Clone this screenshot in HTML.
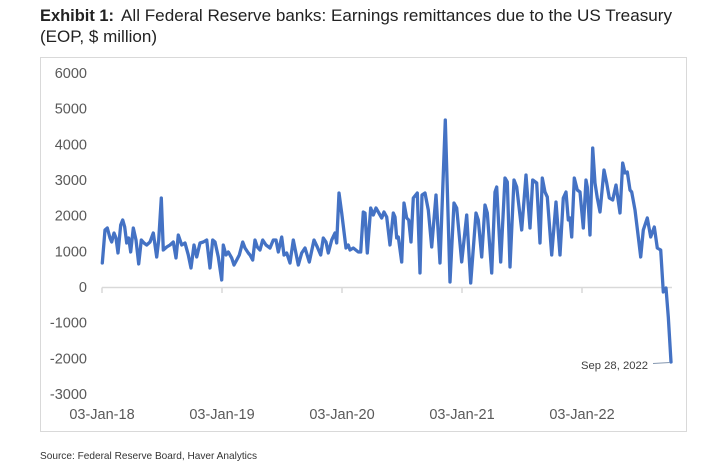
<!DOCTYPE html>
<html><head><meta charset="utf-8"><style>
html,body{margin:0;padding:0;background:#fff;}
svg{display:block;}
</style></head><body>
<svg width="722" height="465" viewBox="0 0 722 465" xmlns="http://www.w3.org/2000/svg">
<rect x="0" y="0" width="722" height="465" fill="#fff"/>
<text x="40" y="21" font-family="Liberation Sans, sans-serif" font-size="17" font-weight="bold" fill="#222" textLength="74" lengthAdjust="spacingAndGlyphs">Exhibit 1:</text>
<text x="121" y="21" font-family="Liberation Sans, sans-serif" font-size="17" fill="#222" textLength="551" lengthAdjust="spacingAndGlyphs">All Federal Reserve banks: Earnings remittances due to the US Treasury</text>
<text x="40" y="42" font-family="Liberation Sans, sans-serif" font-size="17" fill="#222" textLength="117" lengthAdjust="spacingAndGlyphs">(EOP, $ million)</text>
<rect x="40.5" y="57.5" width="646" height="374" fill="#fff" stroke="#d9d9d9" stroke-width="1"/>
<g font-family="Liberation Sans, sans-serif" font-size="14.5" fill="#595959" text-anchor="end">
<text x="87" y="78">6000</text>
<text x="87" y="113.7">5000</text>
<text x="87" y="149.3">4000</text>
<text x="87" y="185">3000</text>
<text x="87" y="220.7">2000</text>
<text x="87" y="256.3">1000</text>
<text x="87" y="292">0</text>
<text x="87" y="327.7">-1000</text>
<text x="87" y="363.3">-2000</text>
<text x="87" y="399">-3000</text>
</g>
<g font-family="Liberation Sans, sans-serif" font-size="14.5" fill="#595959" text-anchor="middle">
<text x="102" y="419">03-Jan-18</text>
<text x="222" y="419">03-Jan-19</text>
<text x="342" y="419">03-Jan-20</text>
<text x="462" y="419">03-Jan-21</text>
<text x="582" y="419">03-Jan-22</text>
</g>
<g stroke="#d9d9d9" stroke-width="1.5" fill="none">
<line x1="102" y1="287.5" x2="672" y2="287.5"/>
<line x1="102" y1="287.5" x2="102" y2="293"/>
<line x1="222" y1="287.5" x2="222" y2="293"/>
<line x1="342" y1="287.5" x2="342" y2="293"/>
<line x1="462" y1="287.5" x2="462" y2="293"/>
<line x1="582" y1="287.5" x2="582" y2="293"/>
</g>
<polyline fill="none" stroke="#4472C4" stroke-width="3.3" stroke-linejoin="round" stroke-linecap="round" points="
102.3,263 105,230 107.3,228 110,238 111.7,242 114,233 116,238 118,253 120.7,225 122.7,220 124.7,227 126.7,243 128.7,238 130.7,252 133.3,228 136,240 138.7,264 141.3,240 144,243 146.7,245 150,242 153.3,233 156.7,257 158.7,240 161.3,198 163.3,250 166.7,247 170,245 173.3,242 176,258 178.3,235 181.7,245 185,243 188.3,255 191,268 194,245 196.7,257 200,243 203.3,242 206.7,240 210,268 212.7,240 215,242 218.3,257 221.7,280 223.3,245 226,255 228.3,252 231.7,258 234,265 236.7,260 239.3,255 242.7,242 245,248 248.3,253
250,255 252.7,260 255,240 257.3,247 260,250 262.7,240 266,245 270,248 273.3,240 276,240 278.3,252 281.7,237 284,255 286.7,253 290,263 293.3,240 295.3,250 298.3,265 301.7,253 305,248 309.3,262 314,240 317.3,247 320.7,255 323.3,238 326,242 328.3,253 331.7,240 335,233 336.7,243 339,193 341.7,213 346,248 348.3,245 350,250 353.3,248 358.3,252 360.7,252 363.3,212 365,213 367.3,253 370.7,208 373.3,215 376,208 378.3,212 381.7,218 384,212 386.7,217 390,245
393.3,213 395,217 396.7,238 398.3,237 401.7,262 404,203 406.7,218 408.7,220 411,242 413.3,198 417.3,193 420,273 422,195 425,193 428.3,210 431.7,247 436,195 440,263 445.3,120 450,282 454,203 456.7,208 461.7,262 466.7,215 470.7,283 476,213 478.3,220 481.7,257 485,205 487.3,213 491.7,273 495,192 496.7,187 500.7,262 505,178 507.3,182 510,267 514,180 516.7,187 521.7,230 526,175 530,228 532.7,180 536.7,183 540,243 542.3,178 545,192 547.3,197
551.7,255 556,202 560,255 563.3,198 566,192 568.3,220 570,218 571.7,237 574.3,178 577.3,190 580,192 583.3,228 586,180 587.3,187 590,235 592.7,148 595,183 597.3,198 600,212 604,170 606.7,183 609.3,198 612.7,200 616,185 620,213 622.7,163 625,173 627.3,172 630,190 631.7,192 635,210 638.3,237 640.7,257 643.3,230 647.3,218 650.7,237 654.3,227 657.3,248 660.7,250 663.3,292 666,288 668.3,317 671,362"/>
<line x1="653" y1="363.5" x2="670" y2="362.5" stroke="#8497b0" stroke-width="1"/>
<text x="648" y="369" font-family="Liberation Sans, sans-serif" font-size="11.3" fill="#404040" text-anchor="end" textLength="67" lengthAdjust="spacingAndGlyphs">Sep 28, 2022</text>
<text x="40" y="459" font-family="Liberation Sans, sans-serif" font-size="10.5" fill="#333" textLength="217" lengthAdjust="spacingAndGlyphs">Source: Federal Reserve Board, Haver Analytics</text>
</svg>
</body></html>
